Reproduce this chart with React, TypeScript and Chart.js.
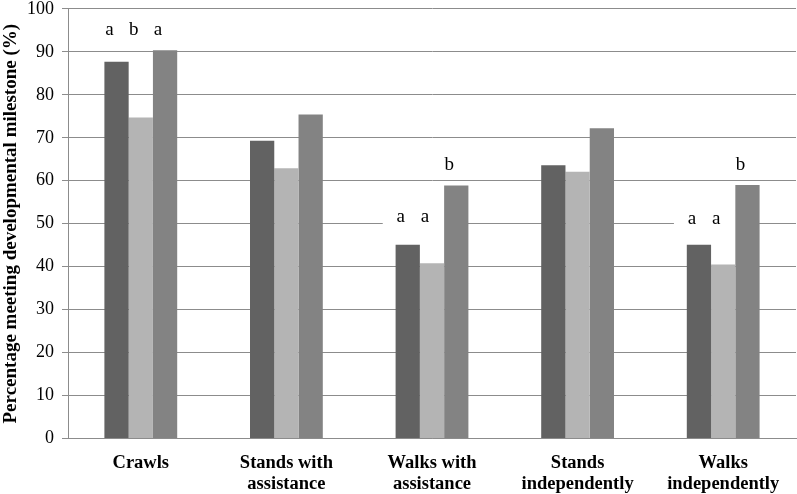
import React, { useEffect, useRef } from "react";
import { Chart, registerables } from "chart.js";

Chart.register(...registerables);

const categories: (string | string[])[] = [
  "Crawls",
  ["Stands with", "assistance"],
  ["Walks with", "assistance"],
  ["Stands", "independently"],
  ["Walks", "independently"],
];
const seriesDark = [87.7, 69.3, 45.1, 63.6, 45.1];
const seriesLight = [74.7, 62.9, 40.8, 62.1, 40.5];
const seriesMid = [90.4, 75.4, 58.9, 72.2, 59.0];
const letterText: string[][] = [["a", "b", "a"], [], ["a", "a", "b"], [], ["a", "a", "b"]];
const letterY: number[][] = [[95, 95, 95], [], [51.6, 51.6, 63.6], [], [51.2, 51.2, 63.7]];
const yTicks = [0, 10, 20, 30, 40, 50, 60, 70, 80, 90, 100];

const SERIF = "'Liberation Serif', 'Times New Roman', serif";

const letterPlugin = {
  id: "letters",
  beforeDatasetsDraw(chart: any) {
    const ctx = chart.ctx;
    const ys = chart.scales.y;
    ctx.save();
    ctx.fillStyle = "#ffffff";
    letterText.forEach((row, i) => {
      if (!row.length) return;
      const groups: Record<string, number[]> = {};
      row.forEach((_, j) => {
        const x = chart.getDatasetMeta(j).data[i].x - 7;
        const key = String(letterY[i][j]);
        (groups[key] = groups[key] || []).push(x);
      });
      Object.keys(groups).forEach((k) => {
        const xs = groups[k];
        const py = ys.getPixelForValue(Number(k));
        const x0 = Math.min(...xs) - 18;
        const x1 = Math.max(...xs) + 21;
        ctx.fillRect(x0, py - 11, x1 - x0, 22);
      });
    });
    ctx.restore();
  },
  afterDatasetsDraw(chart: any) {
    const ctx = chart.ctx;
    const ys = chart.scales.y;
    ctx.save();
    ctx.fillStyle = "#000000";
    ctx.font = `19px ${SERIF}`;
    ctx.textAlign = "center";
    ctx.textBaseline = "middle";
    letterText.forEach((row, i) => {
      row.forEach((t, j) => {
        const x = chart.getDatasetMeta(j).data[i].x - 7;
        const py = ys.getPixelForValue(letterY[i][j]);
        ctx.fillText(t, x, py);
      });
    });
    ctx.restore();
  },
};

export default function App() {
  const ref = useRef<HTMLCanvasElement | null>(null);
  useEffect(() => {
    document.body.style.margin = "0";
    const chart = new Chart(ref.current as HTMLCanvasElement, {
      type: "bar",
      data: {
        labels: categories as any,
        datasets: [
          { data: seriesDark, backgroundColor: "#626262" },
          { data: seriesLight, backgroundColor: "#b4b4b4" },
          { data: seriesMid, backgroundColor: "#838383" },
        ],
      },
      options: {
        responsive: false,
        animation: false,
        layout: { padding: { top: 0, right: 1, left: 0, bottom: 0 } },
        plugins: { legend: { display: false }, tooltip: { enabled: false } },
        datasets: { bar: { categoryPercentage: 0.5, barPercentage: 1 } },
        scales: {
          x: {
            grid: { display: false, drawTicks: false },
            border: { display: true, color: "#8c8c8c", width: 1 },
            ticks: {
              color: "#000",
              font: { family: SERIF, size: 18.5, weight: "bold", lineHeight: 1.15 },
              padding: 14,
              maxRotation: 0,
              autoSkip: false,
            },
            afterFit: (s: any) => {
              s.height = 55.5;
            },
          },
          y: {
            min: 0,
            max: 100,
            afterBuildTicks: (s: any) => {
              s.ticks = yTicks.map((v) => ({ value: v }));
            },
            grid: { color: "#8c8c8c", tickLength: 6, lineWidth: 1 },
            border: { display: true, color: "#8c8c8c", width: 1 },
            ticks: {
              color: "#000",
              font: { family: SERIF, size: 18, lineHeight: 0.1 },
              padding: 8,
            },
            title: {
              display: true,
              text: "Percentage meeting developmental milestone (%)",
              color: "#000",
              font: { family: SERIF, size: 19, weight: "bold" },
              padding: 0,
            },
            afterFit: (s: any) => {
              s.width = 68;
            },
          },
        },
      },
      plugins: [letterPlugin],
    });
    return () => chart.destroy();
  }, []);
  return (
    <div style={{ width: 797, height: 494 }}>
      <canvas ref={ref} width={797} height={494} />
    </div>
  );
}
